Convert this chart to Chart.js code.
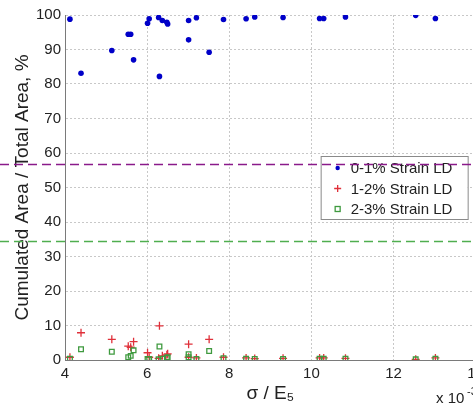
<!DOCTYPE html>
<html>
<head>
<meta charset="utf-8">
<script src="https://cdn.jsdelivr.net/npm/chart.js@4.4.1/dist/chart.umd.min.js"></script>
<style>
    html, body { margin: 0; padding: 0; background: #fff; overflow: hidden; }
    #wrap { position: relative; width: 489px; height: 405px; }
</style>
</head>
<body>
<div id="wrap"><canvas id="chart"></canvas></div>
<script>
// sigma / E5 (x 10^-3) for each sample
const stressRatio = [4.12, 4.39, 5.14, 5.54, 5.60, 5.67, 6.01, 6.05, 6.28, 6.30, 6.37, 6.48, 6.50,
    7.01, 7.01, 7.20, 7.51, 7.86, 8.41, 8.62, 9.31, 10.20, 10.30, 10.83, 12.54, 13.02];

// cumulated area / total area, %
const strain01 = [98.8, 83.1, 89.7, 94.4, 94.4, 87.0, 97.6, 98.9, 99.3, 82.2, 98.4, 97.9, 97.4,
    98.4, 92.8, 99.2, 89.2, 98.7, 98.9, 99.4, 99.3, 99.0, 99.0, 99.4, 99.9, 99.0];
const strain12 = [0.8, 7.9, 6.0, 4.0, 3.7, 5.3, 2.1, 0.8, 0.5, 9.9, 1.2, 1.5, 1.8,
    0.8, 4.6, 0.6, 6.0, 0.8, 0.6, 0.4, 0.5, 0.6, 0.6, 0.5, 0.2, 0.6];
const strain23 = [0.4, 3.1, 2.4, 0.8, 1.2, 2.8, 0.3, 0.3, 0.2, 3.9, 0.4, 0.6, 0.8,
    0.8, 1.7, 0.3, 2.6, 0.5, 0.4, 0.3, 0.3, 0.4, 0.4, 0.4, 0.2, 0.4];

const seriesLabels = ['0-1% Strain LD', '1-2% Strain LD', '2-3% Strain LD'];

// horizontal dashed reference levels
const refLevels = [56.7, 34.6];
const refColors = ['#8a1a8a', '#4fae4f'];

const xTicks = [4, 6, 8, 10, 12, 14];
const yTicks = [0, 10, 20, 30, 40, 50, 60, 70, 80, 90, 100];

const FONT = 'Liberation Sans, Arial, sans-serif';
const toPts = ys => stressRatio.map((x, i) => ({ x, y: ys[i] }));

const styles = [
    { color: '#0000c8', pointStyle: 'circle', radius: 2.8, fill: '#0000c8', width: 0 },
    { color: '#e0303a', pointStyle: 'cross', radius: 4, fill: '#e0303a', width: 1.3 },
    { color: '#3f9a3f', pointStyle: 'rect', radius: 3.3, fill: 'rgba(255,255,255,0)', width: 1.3 }
];

const overlay = {
    id: 'overlay',
    afterDraw(chart) {
        const { ctx, chartArea, scales } = chart;

        // legend box
        const lx = chartArea.right - 155, ly = chartArea.top + 141, lw = 147, lh = 63;
        ctx.save();
        ctx.fillStyle = '#fff';
        ctx.fillRect(lx, ly, lw, lh);
        ctx.strokeStyle = '#8a8a8a';
        ctx.lineWidth = 1;
        ctx.strokeRect(lx + 0.5, ly + 0.5, lw, lh);
        ctx.font = '15px ' + FONT;
        ctx.textBaseline = 'middle';
        seriesLabels.forEach((label, i) => {
            const cy = ly + 12 + i * 20.5;
            const s = styles[i];
            ctx.fillStyle = s.fill; ctx.strokeStyle = s.color; ctx.lineWidth = s.width || 1;
            ctx.beginPath();
            if (s.pointStyle === 'circle') {
                ctx.arc(lx + 17, cy, 2.2, 0, Math.PI * 2); ctx.fill();
            } else if (s.pointStyle === 'cross') {
                ctx.moveTo(lx + 13.5, cy); ctx.lineTo(lx + 20.5, cy);
                ctx.moveTo(lx + 17, cy - 3.5); ctx.lineTo(lx + 17, cy + 3.5); ctx.stroke();
            } else {
                ctx.strokeRect(lx + 14.5, cy - 2.5, 5, 5);
            }
            ctx.fillStyle = '#222';
            ctx.fillText(label, lx + 30, cy + 1);
        });

        // dashed reference lines across the whole figure
        ctx.lineWidth = 1.5;
        ctx.setLineDash([9, 5]);
        refLevels.forEach((v, i) => {
            const y = Math.round(scales.y.getPixelForValue(v)) + 0.5;
            ctx.strokeStyle = refColors[i];
            ctx.beginPath();
            ctx.moveTo(0, y);
            ctx.lineTo(chart.width, y);
            ctx.stroke();
        });
        ctx.setLineDash([]);

        // exponent label
        ctx.fillStyle = '#222';
        ctx.textBaseline = 'alphabetic';
        ctx.font = '15px ' + FONT;
        ctx.fillText('x 10', 436, 403);
        ctx.font = '11px ' + FONT;
        ctx.fillText('-3', 467, 395);
        ctx.restore();
    }
};

new Chart(document.getElementById('chart'), {
    type: 'scatter',
    data: {
        datasets: [strain01, strain12, strain23].map((ys, i) => ({
            label: seriesLabels[i],
            data: toPts(ys),
            pointStyle: styles[i].pointStyle,
            pointRadius: styles[i].radius,
            pointHoverRadius: styles[i].radius,
            backgroundColor: styles[i].fill,
            borderColor: styles[i].color,
            pointBorderWidth: styles[i].width,
            order: 2 - i
        }))
    },
    options: {
        responsive: true,
        maintainAspectRatio: false,
        animation: false,
        layout: { padding: { top: 15, right: 0, left: 0, bottom: 0 } },
        plugins: { legend: { display: false }, tooltip: { enabled: false } },
        scales: {
            x: {
                type: 'linear',
                min: 4, max: 14,
                afterBuildTicks: s => { s.ticks = xTicks.map(v => ({ value: v })); },
                afterFit: s => { s.height = 45; },
                grid: { color: '#c8c8c8', drawTicks: false },
                border: { color: '#7a7a7a', width: 1, dash: [2, 2] },
                ticks: { color: '#222', font: { family: FONT, size: 15 }, padding: 5, autoSkip: false, maxRotation: 0 },
                title: { display: true, text: 'σ / E₅', color: '#222', font: { family: FONT, size: 19 }, padding: { top: 0, bottom: 0 } }
            },
            y: {
                min: 0, max: 100,
                afterBuildTicks: s => { s.ticks = yTicks.map(v => ({ value: v })); },
                afterFit: s => { s.width = 65; },
                grid: { color: '#c8c8c8', drawTicks: false },
                border: { color: '#7a7a7a', width: 1, dash: [2, 2] },
                ticks: { color: '#222', font: { family: FONT, size: 15 }, padding: 4 },
                title: { display: true, text: 'Cumulated Area / Total Area, %', color: '#222', font: { family: FONT, size: 19 }, padding: { top: 11, bottom: 0 } }
            }
        }
    },
    plugins: [overlay]
});
</script>
</body>
</html>
